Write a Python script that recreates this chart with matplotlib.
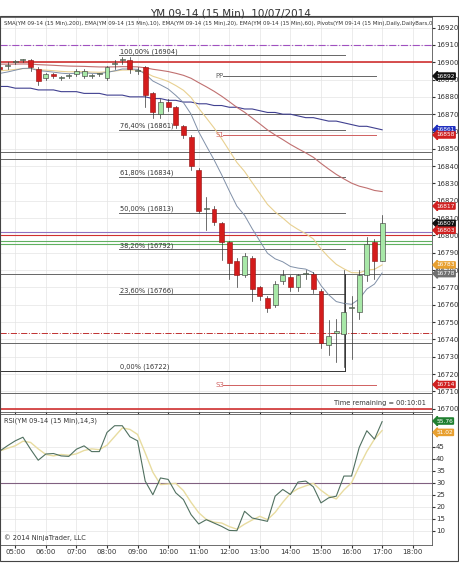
import matplotlib
matplotlib.use("Agg")
import matplotlib.pyplot as plt
import numpy as np

opens  = [16897,16898,16900,16901,16901,16896,16891,16893,16891,16892,16893,16892,16892,16893,16891,16899,16901,16901,16895,16897,16882,16870,16877,16874,16863,16857,16838,16815,16815,16807,16796,16785,16777,16787,16770,16764,16760,16774,16776,16770,16778,16778,16768,16737,16744,16743,16758,16756,16777,16796,16785]
closes = [16896,16898,16900,16901,16897,16889,16893,16892,16891,16892,16895,16895,16892,16893,16897,16899,16901,16896,16895,16881,16871,16877,16874,16864,16858,16840,16814,16815,16808,16796,16784,16777,16788,16769,16765,16758,16772,16777,16770,16777,16778,16769,16738,16742,16744,16756,16758,16777,16795,16785,16807]
highs  = [16898,16900,16901,16902,16902,16897,16894,16894,16892,16893,16896,16896,16893,16894,16898,16901,16903,16903,16897,16898,16883,16879,16879,16875,16864,16858,16839,16822,16817,16808,16797,16787,16790,16788,16771,16765,16774,16780,16777,16778,16780,16779,16769,16751,16752,16780,16765,16780,16799,16798,16812]
lows   = [16895,16896,16899,16900,16895,16887,16890,16891,16890,16891,16892,16891,16891,16892,16890,16896,16899,16894,16893,16874,16868,16868,16872,16862,16856,16838,16813,16803,16806,16786,16775,16770,16776,16762,16763,16756,16759,16772,16768,16768,16775,16767,16735,16731,16727,16724,16729,16752,16774,16775,16785]
sma200 = [16886,16886,16885,16885,16885,16884,16884,16884,16883,16883,16883,16882,16882,16882,16881,16881,16881,16880,16880,16880,16879,16879,16878,16878,16877,16877,16876,16876,16875,16875,16874,16874,16873,16873,16872,16871,16871,16870,16870,16869,16868,16868,16867,16866,16866,16865,16864,16863,16863,16862,16861]
rsi = [43.3,45.5,47.5,49,44,39.4,42,42.2,41.2,41,44,45.4,43,43,51,53.8,53.8,49.2,47.5,30.7,25,32,31.4,25.8,23,16.7,12.8,14.6,13.2,11.8,10.1,10,18.1,15.3,14.6,13.9,24.4,27.2,25.1,30.3,30.7,28.3,21.6,23.7,24.4,32.8,32.8,44.7,51.7,48.2,55.5]

fib_levels = [16904,16861,16834,16813,16792,16766,16722]
fib_names = ["100,00%","76,40%","61,80%","50,00%","38,20%","23,60%","0,00%"]
hour_ticks = list(range(5,19))

t = 4.5 + 0.25*np.arange(len(closes))

def ema(vals, n, seed):
    a = 2/(n+1); out=[]; e=seed
    for v in vals:
        e = e + a*(v-e); out.append(e)
    return np.array(out)
ema10 = ema(closes,10,16893)
ema20 = ema(closes,20,16895)
ema60 = ema(closes,60,16899)
sig = np.array([np.mean(rsi[max(0,i-2):i+1]) for i in range(len(rsi))])

fig = plt.figure(figsize=(4.6,5.64), dpi=100)
fig.text(0.5, 0.985, "YM 09-14 (15 Min)  10/07/2014", ha='center', va='top', fontsize=7.5, color='#333')
fig.patches.append(plt.Rectangle((0.001,0.005),0.995,0.966, transform=fig.transFigure, fill=False, ec='#444', lw=0.8))
ax = fig.add_axes([0.0, 0.270, 0.939, 0.699])
ax2 = fig.add_axes([0.0, 0.034, 0.939, 0.232], sharex=ax)
for a in (ax, ax2):
    a.set_facecolor('white')
    a.yaxis.tick_right()
    a.tick_params(labelsize=5, length=2, colors='#333', pad=1)
    a.set_xticks(hour_ticks)
    a.grid(True, color='#e4e4e4', lw=0.5)
    for s in a.spines.values(): s.set_color('#555'); s.set_linewidth(0.6)
ax.set_xlim(4.5, 18.63)
ax.set_ylim(16698.3, 16925.8)
ax.set_yticks(range(16700,16921,10))
ax.tick_params(labelbottom=False)
ax2.set_ylim(4.1, 58.7)
ax2.set_yticks(range(10,50,5))
ax2.set_xticklabels([f"{h:02d}:00" for h in hour_ticks])

ax.axhline(16910, color='#a050c0', lw=0.8, ls='-.')
for y in (16900, 16700): ax.axhline(y, color='#d03030', lw=1.2)
for y in (16870,16848,16844,16778,16738,16709): ax.axhline(y, color='#666', lw=0.7)
ax.axhline(16802, color='#9070c0', lw=0.8)
ax.axhline(16800, color='#d03030', lw=0.8)
ax.axhline(16797, color='#60b060', lw=0.8)
ax.axhline(16795, color='#60b060', lw=0.8)
ax.axhline(16744, color='#c03030', lw=0.7, ls='-.')
for lv, nm in zip(fib_levels, fib_names):
    x0 = 4.5 if lv == 16722 else 8.4
    ax.plot([x0, 15.78], [lv, lv], color='#333' if lv==16722 else '#666', lw=0.7)
    ax.text(8.42, lv+1.2, f"{nm} ({lv})", fontsize=4.8, color='#333')
ax.plot([15.78,15.78],[16722,16778], color='#333', lw=0.7)
piv = [("PP",16892,'#666'),("S1",16858,'#d06060'),("S3",16714,'#d06060')]
for nm, lv, c in piv:
    ax.plot([11.8,16.8],[lv,lv], color=c, lw=0.7)
    ax.text(11.55, lv, nm, fontsize=5, color=c, va='center')

ax.plot(t, sma200, color='#404090', lw=0.8)
ax.plot(t, ema60, color='#c07070', lw=0.8)
ax.plot(t, ema20, color='#e8d090', lw=0.8)
ax.plot(t, ema10, color='#8090a8', lw=0.7)

w = 0.16
for x,o,h,l,c in zip(t,opens,highs,lows,closes):
    ax.plot([x,x],[l,h], color='#333', lw=0.5, zorder=3)
    up = c >= o
    ax.bar(x, max(abs(c-o),0.6), w, bottom=min(o,c), color='#a8e8a8' if up else '#d41c1c',
           edgecolor='#333' if up else '#901010', lw=0.4, zorder=4)

lab = [(16892,'#111'),(16861,'#2030c0'),(16858,'#d02020'),(16817,'#d02020'),(16807,'#111'),(16803,'#d02020'),(16783,'#e8a030'),(16778,'#707070'),(16714,'#d02020')]
for v,c in lab:
    ax.annotate(str(v), xy=(1.0, v), xycoords=('axes fraction','data'), xytext=(3,0), textcoords='offset points',
                fontsize=4.2, color='white', va='center', ha='left', annotation_clip=False,
                bbox=dict(boxstyle='larrow,pad=0.1', fc=c, ec=c))
ax.text(0.01, 0.99, "SMA(YM 09-14 (15 Min),200), EMA(YM 09-14 (15 Min),10), EMA(YM 09-14 (15 Min),20), EMA(YM 09-14 (15 Min),60), Pivots(YM 09-14 (15 Min),Daily,DailyBars,0",
        transform=ax.transAxes, fontsize=3.9, va='top', color='#333')
ax.text(0.985, 0.015, "Time remaining = 00:10:01", transform=ax.transAxes, fontsize=4.8, ha='right', va='bottom', color='#333')

ax2.axhline(30, color='#806080', lw=0.8)
ax2.plot(t, sig, color='#e8dca0', lw=1.0)
ax2.plot(t, rsi, color='#507060', lw=0.8)
ax2.text(0.01, 0.97, "RSI(YM 09-14 (15 Min),14,3)", transform=ax2.transAxes, fontsize=4.8, va='top', color='#333')
ax2.text(0.01, 0.03, "© 2014 NinjaTrader, LLC", transform=ax2.transAxes, fontsize=4.8, va='bottom', color='#333')
for v,c in [(55.76,'#208030'),(51.02,'#e8a030')]:
    ax2.annotate(f"{v:.2f}", xy=(1.0, v), xycoords=('axes fraction','data'), xytext=(3,0), textcoords='offset points',
                 fontsize=4.2, color='white', va='center', ha='left', annotation_clip=False,
                 bbox=dict(boxstyle='larrow,pad=0.1', fc=c, ec=c))
fig.savefig("out.png", dpi=100)
